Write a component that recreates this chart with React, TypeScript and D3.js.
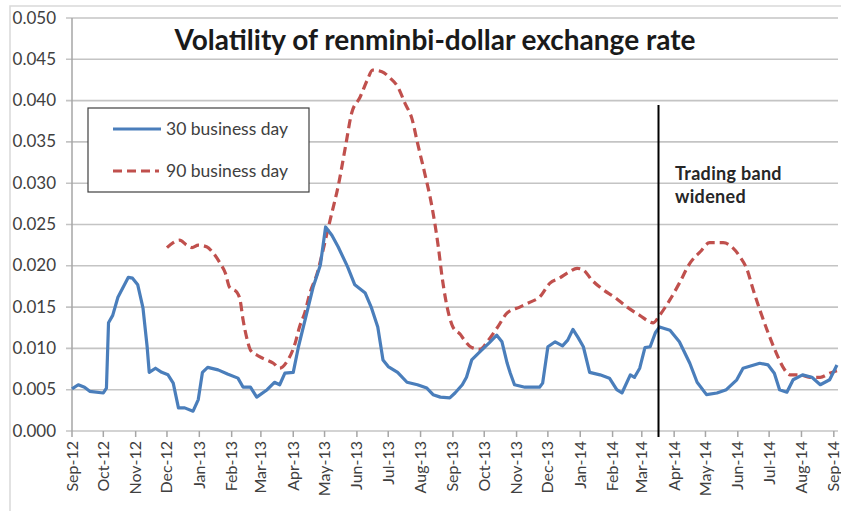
import React from "react";
import * as d3 from "d3";

// 30 business day rolling volatility (date, value)
const vol30: [string, number][] = [
  ["2012-09-01", 0.0051], ["2012-09-07", 0.0056], ["2012-09-13", 0.0053], ["2012-09-18", 0.0048],
  ["2012-10-01", 0.0046], ["2012-10-04", 0.0052], ["2012-10-06", 0.0131], ["2012-10-10", 0.014],
  ["2012-10-15", 0.0162], ["2012-10-20", 0.0174], ["2012-10-25", 0.0186], ["2012-10-29", 0.0185],
  ["2012-11-03", 0.0177], ["2012-11-08", 0.0149], ["2012-11-12", 0.0102], ["2012-11-14", 0.0071],
  ["2012-11-20", 0.0076], ["2012-11-26", 0.0071], ["2012-12-02", 0.0068], ["2012-12-07", 0.0058],
  ["2012-12-12", 0.0028], ["2012-12-18", 0.0028], ["2012-12-26", 0.0024], ["2012-12-31", 0.0038],
  ["2013-01-04", 0.0071], ["2013-01-09", 0.0077], ["2013-01-19", 0.0074], ["2013-01-28", 0.0069],
  ["2013-02-07", 0.0064], ["2013-02-12", 0.0053], ["2013-02-19", 0.0053], ["2013-02-25", 0.0041],
  ["2013-03-07", 0.005], ["2013-03-14", 0.0059], ["2013-03-19", 0.0056], ["2013-03-24", 0.007],
  ["2013-04-01", 0.0071], ["2013-04-06", 0.0102], ["2013-04-14", 0.0143], ["2013-04-20", 0.0174],
  ["2013-04-27", 0.0201], ["2013-05-02", 0.0247], ["2013-05-08", 0.0237], ["2013-05-14", 0.0223],
  ["2013-05-23", 0.0199], ["2013-05-30", 0.0177], ["2013-06-09", 0.0167], ["2013-06-15", 0.0149],
  ["2013-06-21", 0.0126], ["2013-06-26", 0.0086], ["2013-07-01", 0.0078], ["2013-07-10", 0.0071],
  ["2013-07-19", 0.0059], ["2013-07-29", 0.0056], ["2013-08-07", 0.0052], ["2013-08-13", 0.0044],
  ["2013-08-20", 0.0041], ["2013-08-29", 0.004], ["2013-09-03", 0.0046], ["2013-09-10", 0.0056],
  ["2013-09-14", 0.0065], ["2013-09-19", 0.0086], ["2013-09-27", 0.0096], ["2013-10-06", 0.0107],
  ["2013-10-13", 0.0116], ["2013-10-18", 0.0108], ["2013-10-23", 0.0082], ["2013-10-26", 0.007],
  ["2013-10-30", 0.0056], ["2013-11-09", 0.0053], ["2013-11-23", 0.0053], ["2013-11-26", 0.0058],
  ["2013-12-01", 0.0102], ["2013-12-08", 0.0108], ["2013-12-15", 0.0103], ["2013-12-20", 0.011],
  ["2013-12-25", 0.0123], ["2013-12-30", 0.0113], ["2014-01-04", 0.0102], ["2014-01-10", 0.0071],
  ["2014-01-20", 0.0068], ["2014-01-29", 0.0064], ["2014-02-05", 0.005], ["2014-02-10", 0.0046],
  ["2014-02-18", 0.0068], ["2014-02-22", 0.0065], ["2014-02-27", 0.0076], ["2014-03-04", 0.0101],
  ["2014-03-09", 0.0102], ["2014-03-14", 0.0119], ["2014-03-18", 0.0126], ["2014-03-28", 0.0122],
  ["2014-04-06", 0.0108], ["2014-04-16", 0.0082], ["2014-04-23", 0.0059], ["2014-05-02", 0.0044],
  ["2014-05-12", 0.0046], ["2014-05-21", 0.005], ["2014-05-31", 0.0062], ["2014-06-06", 0.0076],
  ["2014-06-22", 0.0082], ["2014-06-30", 0.008], ["2014-07-06", 0.007], ["2014-07-11", 0.005],
  ["2014-07-18", 0.0047], ["2014-07-24", 0.0062], ["2014-08-02", 0.0068], ["2014-08-11", 0.0065],
  ["2014-08-19", 0.0056], ["2014-08-28", 0.0062], ["2014-09-04", 0.008],
];

// 90 business day rolling volatility (date, value)
const vol90: [string, number][] = [
  ["2012-12-01", 0.0222], ["2012-12-07", 0.0228], ["2012-12-13", 0.0231], ["2012-12-20", 0.0225],
  ["2012-12-25", 0.0222], ["2012-12-31", 0.0225], ["2013-01-08", 0.0223], ["2013-01-14", 0.0216],
  ["2013-01-21", 0.0203], ["2013-01-26", 0.0191], ["2013-01-30", 0.0174], ["2013-02-06", 0.0168],
  ["2013-02-09", 0.0159], ["2013-02-12", 0.0134], ["2013-02-16", 0.011], ["2013-02-19", 0.0098],
  ["2013-02-25", 0.0092], ["2013-03-03", 0.0088], ["2013-03-13", 0.0082], ["2013-03-19", 0.0076],
  ["2013-03-26", 0.0084], ["2013-04-03", 0.0107], ["2013-04-07", 0.0126], ["2013-04-12", 0.0143],
  ["2013-04-17", 0.0167], ["2013-04-24", 0.0191], ["2013-04-29", 0.0216], ["2013-05-04", 0.0243],
  ["2013-05-08", 0.0264], ["2013-05-14", 0.0296], ["2013-05-21", 0.0344], ["2013-05-27", 0.0385],
  ["2013-06-04", 0.0404], ["2013-06-11", 0.0425], ["2013-06-16", 0.0437], ["2013-06-25", 0.0435],
  ["2013-07-03", 0.0427], ["2013-07-10", 0.0417], ["2013-07-17", 0.0397], ["2013-07-24", 0.0377],
  ["2013-07-29", 0.0349], ["2013-08-05", 0.0312], ["2013-08-12", 0.0271], ["2013-08-18", 0.0223],
  ["2013-08-22", 0.0183], ["2013-08-27", 0.0147], ["2013-09-01", 0.0126], ["2013-09-08", 0.0117],
  ["2013-09-12", 0.011], ["2013-09-19", 0.0101], ["2013-09-27", 0.0099], ["2013-10-05", 0.011],
  ["2013-10-14", 0.0126], ["2013-10-23", 0.0143], ["2013-11-04", 0.015], ["2013-11-14", 0.0156],
  ["2013-11-23", 0.0162], ["2013-12-03", 0.0179], ["2013-12-12", 0.0185], ["2013-12-22", 0.0193],
  ["2013-12-29", 0.0197], ["2014-01-04", 0.0195], ["2014-01-12", 0.0183], ["2014-01-23", 0.0171],
  ["2014-02-03", 0.0162], ["2014-02-15", 0.015], ["2014-02-27", 0.014], ["2014-03-12", 0.0131],
  ["2014-03-18", 0.014], ["2014-03-28", 0.0159], ["2014-04-06", 0.0179], ["2014-04-16", 0.0203],
  ["2014-04-26", 0.0217], ["2014-05-05", 0.0228], ["2014-05-18", 0.0228], ["2014-05-27", 0.0222],
  ["2014-06-03", 0.0211], ["2014-06-10", 0.0195], ["2014-06-15", 0.0174], ["2014-06-22", 0.0147],
  ["2014-06-30", 0.0119], ["2014-07-08", 0.0094], ["2014-07-14", 0.0078], ["2014-07-21", 0.0068],
  ["2014-07-30", 0.0068], ["2014-08-09", 0.0065], ["2014-08-19", 0.0065], ["2014-08-28", 0.007],
  ["2014-09-04", 0.0073],
];

const yTicks = [0, 0.005, 0.01, 0.015, 0.02, 0.025, 0.03, 0.035, 0.04, 0.045, 0.05];
const bandWidened = "2014-03-17";
const title = "Volatility of renminbi-dollar exchange rate";
const seriesNames = ["30 business day", "90 business day"];
const annotation = ["Trading band", "widened"];

const W = 841;
const H = 511;
const font = "Lato, 'Open Sans', sans-serif";
const parse = d3.timeParse("%Y-%m-%d");

export default function App() {
  const x = d3
    .scaleTime()
    .domain([parse("2012-09-01")!, parse("2014-09-05")!])
    .range([72, 838]);
  const y = d3.scaleLinear().domain([0, 0.05]).range([431, 18]);

  const monthTicks = d3.timeMonth.range(parse("2012-09-01")!, parse("2014-09-02")!);
  const fmt = d3.timeFormat("%b-%y");

  const px = (d: [string, number]) => x(parse(d[0])!);
  const py = (d: [string, number]) => y(d[1]);
  const jagged = d3.line<[string, number]>().x(px).y(py);
  const smooth = d3.line<[string, number]>().x(px).y(py).curve(d3.curveMonotoneX);

  const bx = x(parse(bandWidened)!);

  return (
    <svg
      width={W}
      height={H}
      style={{ position: "absolute", left: 0, top: 0, background: "#fff" }}
      fontFamily={font}
    >
      {/* outer chart frame */}
      <path d={`M10,${H} V6 H${W}`} fill="none" stroke="#d9d9d9" strokeWidth={1.5} />

      {/* gridlines */}
      {yTicks.map((t) => (
        <line key={t} x1={66} x2={838} y1={y(t)} y2={y(t)} stroke="#c4c4c4" strokeWidth={1.6} />
      ))}
      {/* y axis */}
      <line x1={72} x2={72} y1={y(0.05)} y2={y(0)} stroke="#a6a6a6" strokeWidth={1.5} />
      {yTicks.map((t) => (
        <text key={"l" + t} x={56} y={y(t) + 5.5} textAnchor="end" fontSize={17} fill="#404040">
          {t.toFixed(3)}
        </text>
      ))}

      {/* x axis ticks */}
      {monthTicks.map((d) => (
        <g key={+d} transform={`translate(${x(d)},0)`}>
          <line y1={431} y2={437} stroke="#a6a6a6" strokeWidth={1.5} />
          <text
            transform="translate(5.5,441) rotate(-90)"
            textAnchor="end"
            fontSize={16}
            fill="#404040"
          >
            {fmt(d)}
          </text>
        </g>
      ))}

      {/* series */}
      <path d={smooth(vol90) || ""} fill="none" stroke="#c0504d" strokeWidth={3.2} strokeDasharray="9,5" />
      <path d={jagged(vol30) || ""} fill="none" stroke="#4a7ebb" strokeWidth={3.2} strokeLinejoin="round" />

      {/* band widening marker */}
      <line x1={bx} x2={bx} y1={105} y2={437} stroke="#000" strokeWidth={2} />
      <text x={675} y={180} fontSize={18} letterSpacing={0.3} fontWeight="bold" fill="#262626">
        {annotation[0]}
      </text>
      <text x={675} y={203} fontSize={18} letterSpacing={0.3} fontWeight="bold" fill="#262626">
        {annotation[1]}
      </text>

      {/* title */}
      <text x={435} y={50} textAnchor="middle" fontSize={28} fontWeight="bold" fill="#1a1a1a">
        {title}
      </text>

      {/* legend */}
      <rect x={88} y={108} width={221} height={84} fill="#fff" stroke="#404040" strokeWidth={1.2} />
      <line x1={113} x2={161} y1={129} y2={129} stroke="#4a7ebb" strokeWidth={3.2} />
      <text x={166} y={135} fontSize={17.5} fill="#404040">
        {seriesNames[0]}
      </text>
      <line x1={113} x2={159} y1={171} y2={171} stroke="#c0504d" strokeWidth={3.2} strokeDasharray="9,5" />
      <text x={166} y={177} fontSize={17.5} fill="#404040">
        {seriesNames[1]}
      </text>
    </svg>
  );
}
